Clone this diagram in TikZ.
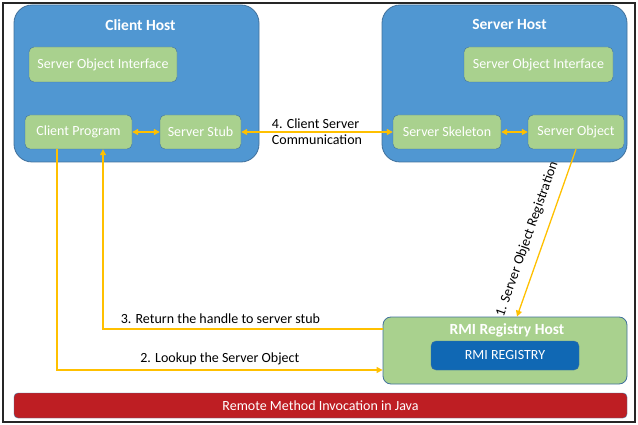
\documentclass[tikz,border=0pt]{standalone}
\usepackage{fontspec}
\setmainfont{Carlito}
\usepackage{xcolor}
\usetikzlibrary{arrows.meta}
\definecolor{hostblue}{HTML}{5097D2}
\definecolor{edgeblue}{HTML}{41719C}
\definecolor{partgreen}{HTML}{A9D18E}
\definecolor{regblue}{HTML}{1068B4}
\definecolor{barred}{HTML}{BE1E23}
\definecolor{linkorange}{HTML}{FFC000}

\begin{document}
\begin{tikzpicture}[x=1pt,y=1pt,
		>={Triangle[length=6pt,width=6pt]},
		host/.style={draw=edgeblue, fill=hostblue, rounded corners=18pt, line width=.8pt, inner sep=0pt},
		hosttitle/.style={text=white, font=\fontsize{15.5}{18}\selectfont\bfseries, anchor=north, yshift=-11pt},
		part/.style={draw=edgeblue, fill=partgreen, rounded corners=5pt, line width=.4pt, inner sep=0pt, minimum height=34pt, text=white, font=\fontsize{14}{16}\selectfont},
		link/.style={draw=linkorange, line width=1.3pt},
		linktext/.style={font=\fontsize{14}{16}\selectfont, text=black}]
	\useasboundingbox (0,0) rectangle (638,-425);
	\draw[line width=1.5pt, draw=black!85] (3,-3) rectangle (635,-422);

	\node[host, minimum width=245pt, minimum height=157pt, label={[hosttitle, xshift=4pt]north:Client Host}] (clienthost) at (136.5,-83.5) {};
	\node[host, minimum width=245pt, minimum height=157pt, label={[hosttitle, xshift=5pt]north:Server Host}] (serverhost) at (504.5,-83.5) {};

	\node[part, minimum width=148pt, minimum height=35pt] (clientiface) at (103,-64.5) {Server Object Interface};
	\node[part, minimum width=107pt] (clientprog) at (78.5,-132) {Client Program};
	\node[part, minimum width=81pt] (stub) at (200.5,-132) {Server Stub};

	\node[part, minimum width=149pt, minimum height=35pt] (serveriface) at (538.5,-64.5) {Server Object Interface};
	\node[part, minimum width=108pt] (skeleton) at (447,-132) {Server Skeleton};
	\node[part, minimum width=96pt] (serverobj) at (576,-132) {Server Object};

	\node[part, rounded corners=8pt, line width=.8pt, minimum width=244pt, minimum height=67pt, label={[hosttitle, yshift=8pt, xshift=2pt]north:RMI Registry Host}] (rmihost) at (505,-350.5) {};
	\node[draw=edgeblue, fill=regblue, rounded corners=5pt, line width=.4pt, minimum width=148pt, minimum height=29pt, text=white, font=\fontsize{14}{16}\selectfont] (registry) at (505,-355.5) {RMI REGISTRY};

	\node[draw=edgeblue, fill=barred, rounded corners=4pt, line width=.4pt, minimum width=613pt, minimum height=25pt, text=white, font=\fontsize{14}{16}\selectfont] (javabar) at (320.5,-405.5) {Remote Method Invocation in Java};

	\draw[link, <->] (clientprog) -- (stub);
	\draw[link, <->] (skeleton) -- (serverobj);
	\draw[link, <->] (stub) -- node[linktext, align=left] {4. Client Server\\Communication} (skeleton);
	\draw[link, ->] (serverobj.south) -- node[linktext, pos=.57, sloped, above=6pt] {1. Server Object Registration} ([xshift=12pt]rmihost.north);
	\draw[link, ->] ([xshift=-21.5pt]clientprog.south) |- node[linktext, pos=.75, above, yshift=1pt] {2. Lookup the Server Object} ([yshift=-19.5pt]rmihost.west);
	\draw[link, ->] ([yshift=21.5pt]rmihost.west) -| node[linktext, pos=.29, above, yshift=1pt] {3. Return the handle to server stub} ([xshift=24.5pt]clientprog.south);
\end{tikzpicture}
\end{document}
